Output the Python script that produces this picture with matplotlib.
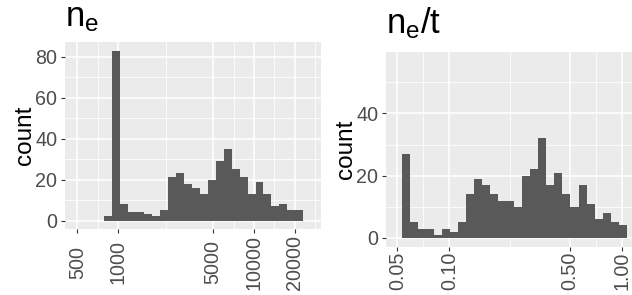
import numpy as np
import matplotlib
matplotlib.use("Agg")
import matplotlib.pyplot as plt

plt.rcParams['font.family'] = ['Liberation Sans', 'DejaVu Sans']
plt.rcParams['mathtext.default'] = 'regular'

### data ###
# n_e histogram (log10 bins)
ne_range = (788.5, 23080.0)
ne_counts = [2, 83, 8, 4, 4, 3, 2, 5, 21, 23, 18, 16, 13, 20, 29, 35,
             25, 21, 13, 19, 13, 7, 8, 5, 5]
ne_breaks = [500, 1000, 5000, 10000, 20000]
ne_labels = ["500", "1000", "5000", "10000", "20000"]

# n_e / t histogram
net_range = (0.05315, 1.069)
net_counts = [27, 5, 3, 3, 1, 3, 2, 5, 14, 19, 17, 14, 12, 12, 10, 20,
              22, 32, 17, 21, 14, 10, 17, 11, 6, 8, 5, 4]
net_breaks = [0.05, 0.10, 0.50, 1.00]
net_labels = ["0.05", "0.10", "0.50", "1.00"]

W, H = 632, 295
BG = "#EBEBEB"
BAR = "#595959"


def minor_breaks(br, lo, hi):
    lb = np.log10(br)
    mids = list((lb[:-1] + lb[1:]) / 2)
    mids = [lb[0] - (lb[1] - lb[0]) / 2] + mids + [lb[-1] + (lb[-1] - lb[-2]) / 2]
    return [10**m for m in mids if np.log10(lo) < m < np.log10(hi)]


def panel(rect_px, counts, rng, xlim, ylim, xbreaks, xlabels, yticks, yminor,
          title, title_pad, xlab_pad, ylab_x):
    l, t, r, b = rect_px
    ax = fig.add_axes([l / W, 1 - b / H, (r - l) / W, (b - t) / H])
    ax.set_facecolor(BG)
    for s in ax.spines.values():
        s.set_visible(False)
    ax.set_xscale('log')
    edges = np.geomspace(rng[0], rng[1], len(counts) + 1)
    ax.bar(edges[:-1], counts, width=np.diff(edges), align='edge',
           color=BAR, linewidth=0)
    ax.set_xlim(*xlim)
    ax.set_ylim(*ylim)

    ax.set_xticks(xbreaks)
    ax.set_xticklabels(xlabels)
    ax.set_xticks(minor_breaks(xbreaks, *xlim), minor=True)
    ax.set_yticks(yticks)
    ax.set_yticks(yminor, minor=True)
    ax.xaxis.set_minor_formatter(plt.NullFormatter())

    ax.set_axisbelow(True)
    ax.grid(which='major', color='white', linewidth=1.1)
    ax.grid(which='minor', color='white', linewidth=0.55)
    ax.tick_params(which='minor', length=0)
    ax.tick_params(which='major', length=3, width=0.8, color='#333333',
                   labelsize=14.2, labelcolor='#4D4D4D')
    ax.tick_params(axis='y', pad=2.5)
    ax.tick_params(axis='x', pad=xlab_pad)
    for lab in ax.get_xticklabels():
        lab.set_rotation(90)
        lab.set_va('center')
        lab.set_ha('center')

    ax.set_title(title, loc='left', fontsize=25, pad=title_pad, color='black')
    fig.text(ylab_x / W, 1 - ((t + b) / 2) / H, "count", rotation=90,
             rotation_mode='anchor', ha='center', va='baseline',
             fontsize=17.5, color='black')
    return ax


fig = plt.figure(figsize=(W / 100, H / 100), dpi=100)

panel((65, 42, 320.5, 229), ne_counts, ne_range, (405, 30900), (-4.15, 87.15),
      ne_breaks, ne_labels, [0, 20, 40, 60, 80], [10, 30, 50, 70],
      r"$n_e$", 11, 21, 31.5)

panel((386, 51.7, 632, 246.7), net_counts, net_range, (0.04295, 1.148),
      (-2.85, 59.85), net_breaks, net_labels, [0, 20, 40], [10, 30, 50],
      r"$n_e/t$", 13, 14.6, 351.7)

fig.savefig("out.png", dpi=100)
